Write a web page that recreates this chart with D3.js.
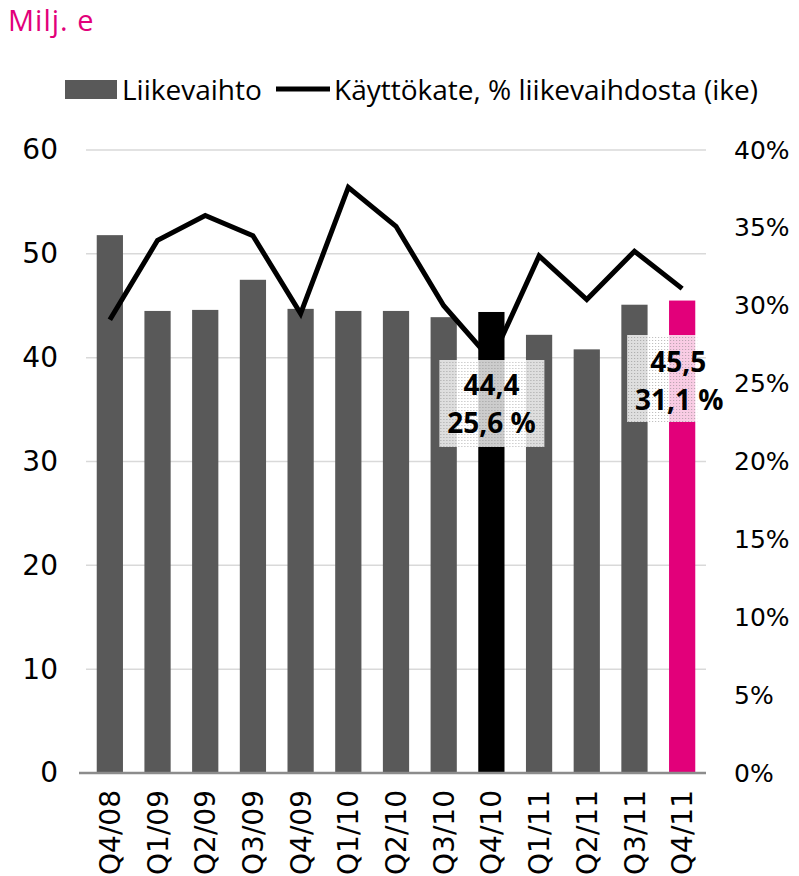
<!DOCTYPE html>
<html>
<head>
<meta charset="utf-8">
<script src="https://cdn.jsdelivr.net/npm/d3@7"></script>
<style>
body { margin: 0; background: #fff; }
</style>
</head>
<body>
<script>
var quarters = ['Q4/08','Q1/09','Q2/09','Q3/09','Q4/09','Q1/10','Q2/10','Q3/10','Q4/10','Q1/11','Q2/11','Q3/11','Q4/11'];
var revenue = [51.8, 44.5, 44.6, 47.5, 44.7, 44.5, 44.5, 43.9, 44.4, 42.2, 40.8, 45.1, 45.5];
var ebitdaPct = [29.1, 34.2, 35.8, 34.5, 29.5, 37.6, 35.1, 30.0, 26.5, 33.2, 30.4, 33.5, 31.1];
var leftTicks = [0, 10, 20, 30, 40, 50, 60];
var rightTicks = [0, 5, 10, 15, 20, 25, 30, 35, 40];
var callouts = [
  { q: 'Q4/10', top: '44,4', bottom: '25,6 %' },
  { q: 'Q4/11', top: '45,5', bottom: '31,1 %' }
];

var svg = d3.select('body').append('svg')
  .attr('width', 799)
  .attr('height', 876);

var x = d3.scaleBand().domain(quarters).range([86, 706]).paddingInner(0.45).paddingOuter(0.225);
var yL = d3.scaleLinear().domain([0, 60]).range([773, 150]);
var yR = d3.scaleLinear().domain([0, 40]).range([773, 150]);

// stipple pattern for the callout boxes
var pat = svg.append('defs').append('pattern')
  .attr('id', 'dots')
  .attr('width', 3).attr('height', 3)
  .attr('patternUnits', 'userSpaceOnUse');
pat.append('rect').attr('width', 3).attr('height', 3).attr('fill', 'rgba(255,255,255,0.8)');
pat.append('rect').attr('width', 1).attr('height', 1).attr('fill', 'rgba(120,120,120,0.55)');

svg.append('text')
  .attr('x', 8).attr('y', 31)
  .attr('font-family', 'Open Sans, sans-serif')
  .attr('font-size', 29)
  .attr('letter-spacing', 1)
  .attr('fill', '#e2007a')
  .text('Milj. e');

// legend
svg.append('rect').attr('x', 65).attr('y', 80).attr('width', 52).attr('height', 19).attr('fill', '#595959');
svg.append('text').attr('x', 122).attr('y', 100)
  .attr('font-family', 'Open Sans, sans-serif').attr('font-size', 28).text('Liikevaihto');
svg.append('line').attr('x1', 276).attr('x2', 330).attr('y1', 89).attr('y2', 89)
  .attr('stroke', '#000').attr('stroke-width', 5);
svg.append('text').attr('x', 334).attr('y', 100)
  .attr('font-family', 'Open Sans, sans-serif').attr('font-size', 28).text('Käyttökate, % liikevaihdosta (ike)');

// gridlines
svg.append('g').selectAll('line').data(leftTicks.slice(1)).join('line')
  .attr('x1', 86).attr('x2', 706)
  .attr('y1', function(d){ return yL(d); }).attr('y2', function(d){ return yL(d); })
  .attr('stroke', '#d9d9d9').attr('stroke-width', 1.5);

// left axis
var gl = svg.append('g').attr('transform', 'translate(58,0)')
  .call(d3.axisLeft(yL).tickValues(leftTicks).tickSize(0).tickPadding(0));
gl.select('.domain').remove();
gl.selectAll('text').attr('font-family', 'DejaVu Sans, sans-serif').attr('font-size', 28).attr('fill', '#000');

// right axis
var gr = svg.append('g').attr('transform', 'translate(734,0)')
  .call(d3.axisRight(yR).tickValues(rightTicks).tickSize(0).tickPadding(0).tickFormat(function(d){ return d + '%'; }));
gr.select('.domain').remove();
gr.selectAll('text').attr('font-family', 'DejaVu Sans, sans-serif').attr('font-size', 25).attr('fill', '#000');

// bars
svg.append('g').selectAll('rect').data(quarters).join('rect')
  .attr('x', function(d){ return x(d); })
  .attr('width', x.bandwidth())
  .attr('y', function(d, i){ return yL(revenue[i]); })
  .attr('height', function(d, i){ return yL(0) - yL(revenue[i]); })
  .attr('fill', function(d){ return d == 'Q4/10' ? '#000' : d == 'Q4/11' ? '#e2007a' : '#595959'; });

// bottom axis
var gx = svg.append('g').attr('transform', 'translate(0,773)')
  .call(d3.axisBottom(x).tickSize(0).tickPadding(0));
gx.select('.domain').attr('stroke', '#8c8c8c').attr('stroke-width', 2.5).attr('d', 'M79,0H706');
gx.selectAll('text')
  .attr('font-family', 'DejaVu Sans, sans-serif').attr('font-size', 28).attr('fill', '#000')
  .attr('transform', 'rotate(-90)')
  .attr('text-anchor', 'end')
  .attr('dy', '0.36em')
  .attr('x', -17).attr('y', 0);

// line
var line = d3.line()
  .x(function(d, i){ return x(quarters[i]) + x.bandwidth() / 2; })
  .y(function(d){ return yR(d); });
svg.append('path').datum(ebitdaPct)
  .attr('d', line)
  .attr('fill', 'none').attr('stroke', '#000').attr('stroke-width', 5).attr('stroke-linejoin', 'miter');

// callouts
var cg = svg.append('g').selectAll('g').data(callouts).join('g')
  .attr('transform', function(d){
    var cx = x(d.q) + x.bandwidth() / 2;
    return 'translate(' + cx + ',' + (d.q == 'Q4/10' ? 404 : 379) + ')';
  });
cg.append('rect')
  .attr('x', function(d){ return d.q == 'Q4/10' ? -52 : -55; })
  .attr('width', function(d){ return d.q == 'Q4/10' ? 105 : 70; })
  .attr('y', -44).attr('height', 87)
  .attr('fill', 'url(#dots)');
cg.append('text').attr('text-anchor', 'middle')
  .attr('x', function(d){ return d.q == 'Q4/11' ? -4 : 0; })
  .attr('y', function(d){ return d.q == 'Q4/11' ? -7 : -9; })
  .attr('font-family', 'Open Sans, sans-serif').attr('font-weight', 'bold').attr('font-size', 28)
  .text(function(d){ return d.top; });
cg.append('text').attr('text-anchor', 'middle')
  .attr('x', function(d){ return d.q == 'Q4/11' ? -3 : 0; })
  .attr('y', function(d){ return d.q == 'Q4/11' ? 31 : 29; })
  .attr('font-family', 'Open Sans, sans-serif').attr('font-weight', 'bold').attr('font-size', 28)
  .text(function(d){ return d.bottom; });
</script>
</body>
</html>
